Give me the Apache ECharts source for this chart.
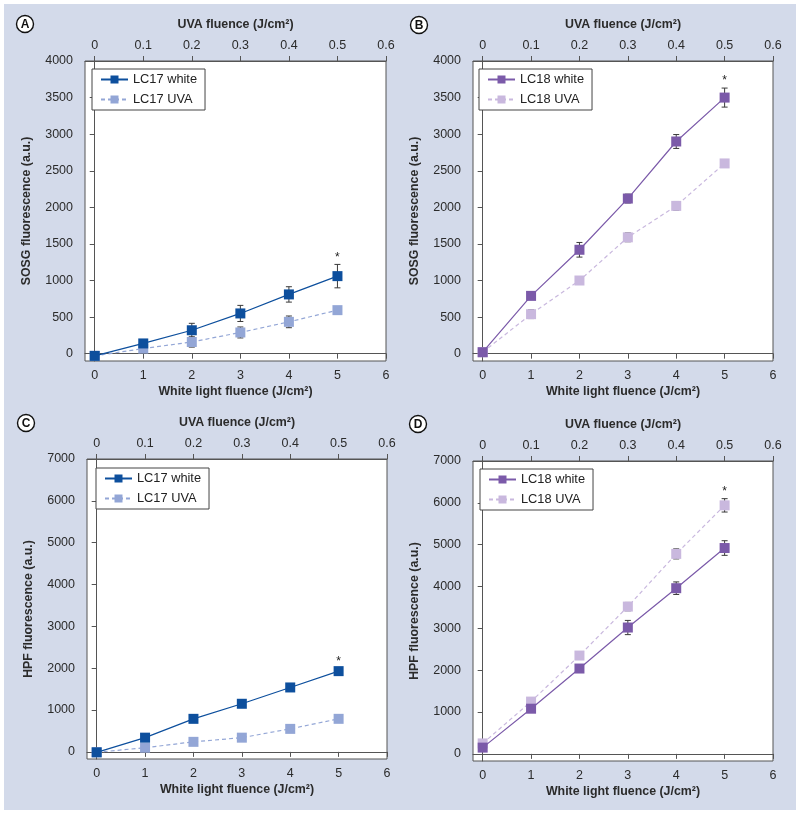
<!DOCTYPE html>
<html>
<head>
<meta charset="utf-8">
<script src="https://cdn.jsdelivr.net/npm/echarts@6/dist/echarts.min.js"></script>
<style>
html,body{margin:0;padding:0;background:#fff;}
#chart{width:800px;height:816px;}
</style>
</head>
<body>
<div id="chart"></div>
<script>
// ---- data ----
const whiteFluence = [0, 1, 2, 3, 4, 5];
const whiteTicks = [0, 1, 2, 3, 4, 5, 6];
const uvaTicks = [0, 0.1, 0.2, 0.3, 0.4, 0.5, 0.6];
const sosgTicks = [0, 500, 1000, 1500, 2000, 2500, 3000, 3500, 4000];
const hpfTicks = [0, 1000, 2000, 3000, 4000, 5000, 6000, 7000];

// Panel A: SOSG, LC17
const lc17WhiteSOSG = [-30, 140, 320, 550, 810, 1060];
const lc17WhiteSOSGErr = [15, 30, 95, 110, 105, 160];
const lc17UvaSOSG = [-30, 70, 160, 290, 435, 595];
const lc17UvaSOSGErr = [15, 60, 70, 75, 80, 30];
// Panel B: SOSG, LC18
const lc18WhiteSOSG = [20, 790, 1420, 2120, 2900, 3500];
const lc18WhiteSOSGErr = [20, 40, 100, 60, 95, 130];
const lc18UvaSOSG = [20, 540, 1000, 1590, 2020, 2600];
const lc18UvaSOSGErr = [20, 60, 50, 60, 60, 50];
// Panel C: HPF, LC17
const lc17WhiteHPF = [-10, 340, 790, 1150, 1540, 1930];
const lc17WhiteHPFErr = [20, 30, 40, 40, 40, 50];
const lc17UvaHPF = [-10, 100, 240, 340, 550, 790];
const lc17UvaHPFErr = [20, 20, 20, 20, 20, 20];
// Panel D: HPF, LC18
const lc18WhiteHPF = [150, 1080, 2040, 3020, 3960, 4920];
const lc18WhiteHPFErr = [40, 60, 80, 170, 150, 175];
const lc18UvaHPF = [250, 1250, 2350, 3520, 4780, 5940];
const lc18UvaHPFErr = [40, 60, 80, 100, 120, 160];

// significance marker (index of the point marked with *) per panel
const starIndex = 5;

// ---- styles ----
const C17W = '#0d4f9d', C17U = '#93a6d6', C18W = '#7b5aa9', C18U = '#c9b8de';
const FONT = 'Liberation Sans, Arial, Helvetica, sans-serif';
const grids = [
  {left: 85, top: 61, width: 301, height: 300},
  {left: 473, top: 61, width: 300, height: 300},
  {left: 87, top: 459, width: 300, height: 300},
  {left: 473, top: 461, width: 300, height: 300}
];
const panels = [
  {yName: 'SOSG fluorescence (a.u.)', yMin: -100, yMax: 4000, yTicks: sosgTicks,
   w: lc17WhiteSOSG, we: lc17WhiteSOSGErr, u: lc17UvaSOSG, ue: lc17UvaSOSGErr,
   wName: 'LC17 white', uName: 'LC17 UVA', wc: C17W, uc: C17U, starOn: 'w',
   legend: {left: 92, top: 69}},
  {yName: 'SOSG fluorescence (a.u.)', yMin: -100, yMax: 4000, yTicks: sosgTicks,
   w: lc18WhiteSOSG, we: lc18WhiteSOSGErr, u: lc18UvaSOSG, ue: lc18UvaSOSGErr,
   wName: 'LC18 white', uName: 'LC18 UVA', wc: C18W, uc: C18U, starOn: 'w',
   legend: {left: 479, top: 69}},
  {yName: 'HPF fluorescence (a.u.)', yMin: -170, yMax: 7000, yTicks: hpfTicks,
   w: lc17WhiteHPF, we: lc17WhiteHPFErr, u: lc17UvaHPF, ue: lc17UvaHPFErr,
   wName: 'LC17 white', uName: 'LC17 UVA', wc: C17W, uc: C17U, starOn: 'w',
   legend: {left: 96, top: 468}},
  {yName: 'HPF fluorescence (a.u.)', yMin: -170, yMax: 7000, yTicks: hpfTicks,
   w: lc18WhiteHPF, we: lc18WhiteHPFErr, u: lc18UvaHPF, ue: lc18UvaHPFErr,
   wName: 'LC18 white', uName: 'LC18 UVA', wc: C18W, uc: C18U, starOn: 'u',
   legend: {left: 480, top: 469}}
];

const axisLineStyle = {color: '#555', width: 1};
const labelStyle = {color: '#2b2b2b', fontSize: 12.5, fontFamily: FONT};
const nameStyle = {color: '#2b2b2b', fontSize: 12.4, fontWeight: 'bold', fontFamily: FONT};
const plain = v => String(v);

function errRender(params, api) {
  const x = api.value(0), lo = api.value(1), hi = api.value(2);
  const p1 = api.coord([x, hi]), p2 = api.coord([x, lo]);
  const w = 3;
  const st = {stroke: '#3a3a3a', lineWidth: 1};
  return {type: 'group', children: [
    {type: 'line', shape: {x1: p1[0], y1: p1[1], x2: p2[0], y2: p2[1]}, style: st},
    {type: 'line', shape: {x1: p1[0] - w, y1: p1[1], x2: p1[0] + w, y2: p1[1]}, style: st},
    {type: 'line', shape: {x1: p2[0] - w, y1: p2[1], x2: p2[0] + w, y2: p2[1]}, style: st}
  ]};
}
function starRender(params, api) {
  const p = api.coord([api.value(0), api.value(1)]);
  return {type: 'text', x: p[0], y: p[1] - 7,
    style: {text: '*', fontSize: 12, fontFamily: FONT, fill: '#222', align: 'center', verticalAlign: 'middle'}};
}

const option = {
  backgroundColor: '#ffffff',
  animation: false,
  graphic: [
    {type: 'rect', shape: {x: 4, y: 4, width: 792, height: 806}, style: {fill: '#d3daea'}, z: -10, silent: true}
  ],
  grid: [], xAxis: [], yAxis: [], legend: [], series: []
};

['A', 'B', 'C', 'D'].forEach((letter, i) => {
  const pos = [[25, 24], [419, 25], [26, 423], [418, 424]][i];
  option.graphic.push({type: 'circle', shape: {cx: pos[0], cy: pos[1], r: 8.5},
    style: {fill: '#fff', stroke: '#111', lineWidth: 1.4}, z: 5});
  option.graphic.push({type: 'text', x: pos[0], y: pos[1] + 0.5, z: 6,
    style: {text: letter, fontSize: 12, fontWeight: 'bold', fontFamily: FONT, fill: '#111', align: 'center', verticalAlign: 'middle'}});
});

panels.forEach((p, i) => {
  option.grid.push(Object.assign({show: true, backgroundColor: '#ffffff', borderColor: '#555', borderWidth: 1}, grids[i]));
  // bottom axis (white light)
  option.xAxis.push({
    type: 'value', gridIndex: i, position: 'bottom', min: -0.2, max: 6,
    name: 'White light fluence (J/cm²)', nameLocation: 'middle', nameGap: 25, nameTextStyle: nameStyle,
    axisLine: {show: true, lineStyle: axisLineStyle},
    axisTick: {show: true, length: 5, lineStyle: axisLineStyle, customValues: whiteTicks},
    axisLabel: Object.assign({margin: 8, customValues: whiteTicks, formatter: plain}, labelStyle),
    splitLine: {show: false}
  });
  // top axis (UVA)
  option.xAxis.push({
    type: 'value', gridIndex: i, position: 'top', min: -0.02, max: 0.6,
    name: 'UVA fluence (J/cm²)', nameLocation: 'middle', nameGap: 30, nameTextStyle: nameStyle,
    axisLine: {show: true, lineStyle: axisLineStyle},
    axisTick: {show: true, length: 5, lineStyle: axisLineStyle, customValues: uvaTicks},
    axisLabel: Object.assign({margin: 9, customValues: uvaTicks, formatter: plain}, labelStyle),
    splitLine: {show: false}
  });
  option.yAxis.push({
    type: 'value', gridIndex: i, min: p.yMin, max: p.yMax,
    name: p.yName, nameLocation: 'middle', nameGap: 52, nameTextStyle: nameStyle,
    axisLine: {show: true, lineStyle: axisLineStyle},
    axisTick: {show: true, length: 5, lineStyle: axisLineStyle, customValues: p.yTicks},
    axisLabel: Object.assign({margin: 12, customValues: p.yTicks, formatter: plain}, labelStyle),
    splitLine: {show: false}
  });
  option.legend.push({
    left: p.legend.left, top: p.legend.top, orient: 'vertical',
    data: [p.wName, p.uName],
    backgroundColor: '#fff', borderColor: '#444', borderWidth: 1, borderRadius: 0,
    padding: [4, 8, 4, 8], itemGap: 7, itemWidth: 27, itemHeight: 10,
    textStyle: {color: '#222', fontSize: 12.8, fontFamily: FONT},
    selectedMode: false
  });
  const xi = i * 2;
  const errW = whiteFluence.map((x, k) => [x, p.w[k] - p.we[k], p.w[k] + p.we[k]]);
  const errU = whiteFluence.map((x, k) => [x, p.u[k] - p.ue[k], p.u[k] + p.ue[k]]);
  option.series.push({type: 'custom', xAxisIndex: xi, yAxisIndex: i, renderItem: errRender, data: errU, z: 1, silent: true});
  option.series.push({type: 'custom', xAxisIndex: xi, yAxisIndex: i, renderItem: errRender, data: errW, z: 1, silent: true});
  option.series.push({
    type: 'line', name: p.uName, xAxisIndex: xi, yAxisIndex: i,
    data: whiteFluence.map((x, k) => [x, p.u[k]]),
    symbol: 'rect', symbolSize: 10, showAllSymbol: true,
    itemStyle: {color: p.uc}, lineStyle: {color: p.uc, width: 1.2, type: [4, 3]}, z: 2
  });
  option.series.push({
    type: 'line', name: p.wName, xAxisIndex: xi, yAxisIndex: i,
    data: whiteFluence.map((x, k) => [x, p.w[k]]),
    symbol: 'rect', symbolSize: 10, showAllSymbol: true,
    itemStyle: {color: p.wc}, lineStyle: {color: p.wc, width: 1.2}, z: 3
  });
  const sv = p.starOn === 'w' ? p.w[starIndex] + p.we[starIndex] : p.u[starIndex] + p.ue[starIndex];
  option.series.push({type: 'custom', xAxisIndex: xi, yAxisIndex: i, renderItem: starRender,
    data: [[whiteFluence[starIndex], sv]], z: 4, silent: true});
});

const chart = echarts.init(document.getElementById('chart'), null, {renderer: 'canvas'});
chart.setOption(option);
</script>
</body>
</html>
